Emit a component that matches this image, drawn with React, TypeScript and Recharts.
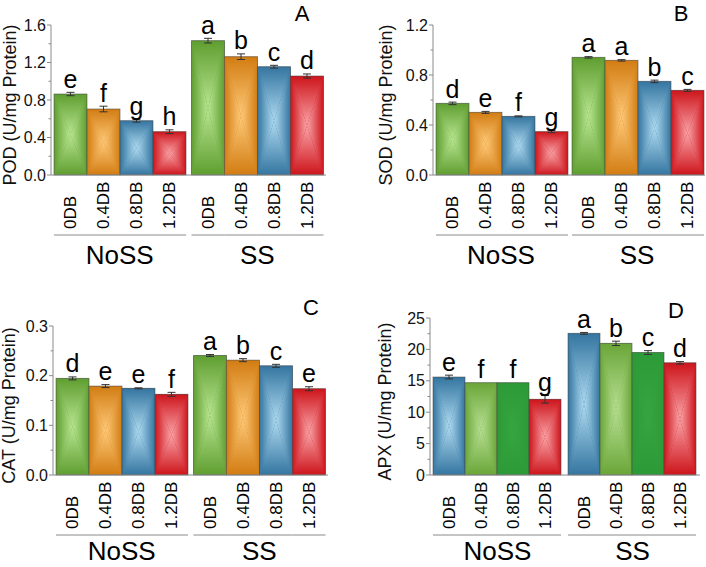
import React from 'react';
import { BarChart, Bar, XAxis, YAxis, ErrorBar, LabelList } from 'recharts';

const FONT = "'Liberation Sans', Arial, Helvetica, sans-serif";

const GROUPS = ['NoSS', 'SS'];
const DOSES = ['0DB', '0.4DB', '0.8DB', '1.2DB'];

// Panel A – POD
const POD_NOSS = [0.864, 0.704, 0.579, 0.462];
const POD_SS = [1.433, 1.262, 1.155, 1.056];
const POD_ERR_NOSS = [0.018, 0.03, 0.015, 0.02];
const POD_ERR_SS = [0.025, 0.03, 0.015, 0.022];
const POD_LET_NOSS = ['e', 'f', 'g', 'h'];
const POD_LET_SS = ['a', 'b', 'c', 'd'];
const POD_TICKS = [0, 0.4, 0.8, 1.2, 1.6];
const POD_MINOR = [0.2, 0.6, 1.0, 1.4];

// Panel B – SOD
const SOD_NOSS = [0.573, 0.501, 0.469, 0.347];
const SOD_SS = [0.941, 0.917, 0.749, 0.677];
const SOD_ERR_NOSS = [0.01, 0.008, 0.004, 0.008];
const SOD_ERR_SS = [0.006, 0.006, 0.01, 0.008];
const SOD_LET_NOSS = ['d', 'e', 'f', 'g'];
const SOD_LET_SS = ['a', 'a', 'b', 'c'];
const SOD_TICKS = [0, 0.4, 0.8, 1.2];
const SOD_MINOR = [0.2, 0.6, 1.0];

// Panel C – CAT
const CAT_NOSS = [0.1945, 0.179, 0.1745, 0.1624];
const CAT_SS = [0.2406, 0.2312, 0.2198, 0.1737];
const CAT_ERR_NOSS = [0.003, 0.003, 0.001, 0.004];
const CAT_ERR_SS = [0.002, 0.003, 0.003, 0.004];
const CAT_LET_NOSS = ['d', 'e', 'e', 'f'];
const CAT_LET_SS = ['a', 'b', 'c', 'e'];
const CAT_TICKS = [0, 0.1, 0.2, 0.3];
const CAT_MINOR = [0.05, 0.15, 0.25];

// Panel D – APX
const APX_NOSS = [15.6, 14.7, 14.7, 12.05];
const APX_SS = [22.55, 20.96, 19.5, 17.86];
const APX_ERR_NOSS = [0.3, 0, 0, 0.6];
const APX_ERR_SS = [0.15, 0.35, 0.3, 0.2];
const APX_LET_NOSS = ['e', 'f', 'f', 'g'];
const APX_LET_SS = ['a', 'b', 'c', 'd'];
const APX_TICKS = [0, 5, 10, 15, 20, 25];
const APX_MINOR = [2.5, 7.5, 12.5, 17.5, 22.5];

// edge colour, centre colour
const PALETTE: Record<string, [string, string]> = {
  green: ['#5f9e30', '#b8e591'],
  orange: ['#d27c12', '#fec978'],
  blue: ['#3475a0', '#aedaf0'],
  red: ['#cd141b', '#f9a3a7'],
  lgreen: ['#6aa638', '#b6df92'],
  dgreen: ['#2c9a36', '#36a641'],
};

const COLORS_ABC = ['green', 'orange', 'blue', 'red'];
const COLORS_D = ['blue', 'lgreen', 'dgreen', 'red'];

const AXIS = '#8a8a8a';

type Frame = {
  left: number;
  top: number;
  width: number;
  height: number;
  margin: { top: number; right: number; bottom: number; left: number };
  yLabelDx: number;
  groupDy: number;
};

const FRAME_A: Frame = { left: 0, top: 0, width: 353, height: 283, margin: { top: 25, right: 27, bottom: 28, left: 11 }, yLabelDx: -41.5, groupDy: 89 };
const FRAME_B: Frame = { left: 353, top: 0, width: 353, height: 283, margin: { top: 25, right: 1, bottom: 28, left: 40 }, yLabelDx: -47, groupDy: 89 };
const FRAME_C: Frame = { left: 0, top: 283, width: 353, height: 284, margin: { top: 43, right: 25, bottom: 12, left: 13 }, yLabelDx: -44, groupDy: 85 };
const FRAME_D: Frame = { left: 353, top: 283, width: 353, height: 284, margin: { top: 35, right: 6, bottom: 12, left: 37 }, yLabelDx: -45, groupDy: 85 };

function GradDefs({ pid, colors }: { pid: string; colors: string[] }) {
  return (
    <defs>
      {colors.map((ck) => {
        const [edge, center] = PALETTE[ck];
        const id = `${pid}-${ck}`;
        return (
          <React.Fragment key={ck}>
            <linearGradient id={`${id}-l`} x1="0" y1="0" x2="1" y2="0">
              <stop offset="0" stopColor={edge} />
              <stop offset="1" stopColor={center} />
            </linearGradient>
            <linearGradient id={`${id}-r`} x1="0" y1="0" x2="1" y2="0">
              <stop offset="0" stopColor={center} />
              <stop offset="1" stopColor={edge} />
            </linearGradient>
            <linearGradient id={`${id}-t`} x1="0" y1="0" x2="0" y2="1">
              <stop offset="0" stopColor={edge} />
              <stop offset="1" stopColor={center} />
            </linearGradient>
            <linearGradient id={`${id}-b`} x1="0" y1="0" x2="0" y2="1">
              <stop offset="0" stopColor={center} />
              <stop offset="1" stopColor={edge} />
            </linearGradient>
          </React.Fragment>
        );
      })}
    </defs>
  );
}

function boxBar(p: any, pid: string, ck: string) {
  const x = Number(p.x);
  const y = Number(p.y);
  const w = Number(p.width);
  const h = Number(p.height);
  if (!w || !h) return <g />;
  const cx = x + w / 2;
  const cy = y + h / 2;
  const id = `${pid}-${ck}`;
  const [edge] = PALETTE[ck];
  return (
    <g>
      <rect x={x} y={y} width={w} height={h} fill={edge} />
      <polygon points={`${x},${y} ${cx},${cy} ${x},${y + h}`} fill={`url(#${id}-l)`} />
      <polygon points={`${x + w},${y} ${cx},${cy} ${x + w},${y + h}`} fill={`url(#${id}-r)`} />
      <polygon points={`${x},${y} ${x + w},${y} ${cx},${cy}`} fill={`url(#${id}-t)`} />
      <polygon points={`${x},${y + h} ${x + w},${y + h} ${cx},${cy}`} fill={`url(#${id}-b)`} />
      <rect x={x} y={y} width={w} height={h} fill="none" stroke="#4a4a4a" strokeOpacity={0.55} strokeWidth={1} />
    </g>
  );
}

type PanelProps = {
  pid: string;
  noss: number[];
  ss: number[];
  errNoss: number[];
  errSs: number[];
  letNoss: string[];
  letSs: string[];
  ticks: number[];
  minor: number[];
  decimals: number;
  yLabel: string;
  colors: string[];
  frame: Frame;
};

function Panel(props: PanelProps) {
  const { pid, noss, ss, errNoss, errSs, letNoss, letSs, ticks, minor, decimals, yLabel, colors, frame } = props;
  const data = GROUPS.map((g, gi) => {
    const vals = gi === 0 ? noss : ss;
    const errs = gi === 0 ? errNoss : errSs;
    const row: Record<string, any> = { group: g };
    DOSES.forEach((_, i) => {
      row[`v${i}`] = vals[i];
      row[`e${i}`] = errs[i];
    });
    return row;
  });
  const letters = [letNoss, letSs];
  const errsAll = [errNoss, errSs];
  const allTicks = [...ticks, ...minor].sort((a, b) => a - b);
  const yMax = ticks[ticks.length - 1];

  const yTick = (p: any) => {
    const x = Number(p.x);
    const y = Number(p.y);
    const v = Number(p.payload?.value);
    const isMajor = ticks.some((m) => Math.abs(m - v) < 1e-9);
    return (
      <g>
        <line x1={x} x2={x - (isMajor ? 4 : 2.5)} y1={y} y2={y} stroke={AXIS} strokeWidth={1} />
        {isMajor && (
          <text x={x - 5} y={y} textAnchor="end" dominantBaseline="central" fontSize={16} fill="#111" fontFamily={FONT}>
            {v.toFixed(decimals)}
          </text>
        )}
      </g>
    );
  };

  const groupTick = (p: any) => (
    <text x={Number(p.x)} y={Number(p.y) + frame.groupDy} textAnchor="middle" fontSize={26} fill="#000" fontFamily={FONT}>
      {p.payload?.value}
    </text>
  );

  const yLabelContent = (p: any) => {
    const vb = p.viewBox || {};
    const ax = Number(vb.x ?? 0) + Number(vb.width ?? 0);
    const cy = Number(vb.y ?? 0) + Number(vb.height ?? 0) / 2 + 5;
    return (
      <text
        transform={`translate(${ax + frame.yLabelDx},${cy}) rotate(-90)`}
        textAnchor="middle"
        dominantBaseline="central"
        fontSize={18}
        fill="#111"
        fontFamily={FONT}
      >
        {yLabel}
      </text>
    );
  };

  const makeBarLabel = (i: number) => (p: any) => {
    const vb = p.viewBox || p;
    const x = Number(vb.x);
    const y = Number(vb.y);
    const w = Number(vb.width);
    const h = Number(vb.height);
    const gi = Number(p.index);
    const value = Number(p.value);
    const err = errsAll[gi]?.[i] ?? 0;
    const errPx = value ? (err / value) * h : 0;
    const cx = x + w / 2;
    const base = y + h;
    return (
      <g>
        <text x={cx} y={y - errPx - 4.5} textAnchor="middle" fontSize={25} fill="#000" fontFamily={FONT}>
          {letters[gi]?.[i]}
        </text>
        <text
          transform={`translate(${cx},${base + 54}) rotate(-90)`}
          textAnchor="start"
          dominantBaseline="central"
          fontSize={17}
          fill="#000"
          fontFamily={FONT}
        >
          {DOSES[i]}
        </text>
        <line x1={x} x2={x + w} y1={base + 60} y2={base + 60} stroke={AXIS} strokeWidth={1} />
      </g>
    );
  };

  return (
    <div style={{ position: 'absolute', left: frame.left, top: frame.top, width: frame.width, height: frame.height }}>
      <BarChart
        width={frame.width}
        height={frame.height}
        data={data}
        margin={frame.margin}
        barGap={0}
        barCategoryGap={3}
      >
        <GradDefs pid={pid} colors={colors} />
        <XAxis
          dataKey="group"
          type="category"
          height={80}
          tickLine={false}
          tickSize={0}
          tickMargin={0}
          interval={0}
          axisLine={{ stroke: AXIS, strokeWidth: 1 }}
          tick={groupTick}
        />
        <YAxis
          type="number"
          domain={[0, yMax]}
          ticks={allTicks}
          width={40}
          interval={0}
          tickLine={false}
          tickSize={0}
          tickMargin={0}
          axisLine={{ stroke: AXIS, strokeWidth: 1 }}
          tick={yTick}
          label={{ content: yLabelContent } as any}
        />
        {DOSES.map((d, i) => (
          <Bar
            key={d}
            dataKey={`v${i}`}
            isAnimationActive={false}
            shape={(p: any) => boxBar(p, pid, colors[i])}
          >
            <ErrorBar dataKey={`e${i}`} width={4} stroke="#333" strokeWidth={1} direction="y" />
            <LabelList dataKey={`v${i}`} content={makeBarLabel(i)} />
          </Bar>
        ))}
      </BarChart>
    </div>
  );
}

const PANEL_TAGS = [
  { t: 'A', x: 302, y: 21 },
  { t: 'B', x: 681, y: 21 },
  { t: 'C', x: 311, y: 315 },
  { t: 'D', x: 676, y: 318 },
];

export default function App() {
  return (
    <div
      style={{
        position: 'absolute',
        left: 0,
        top: 0,
        width: 706,
        height: 567,
        overflow: 'hidden',
        background: '#fff',
        fontFamily: FONT,
      }}
    >
      <Panel pid="pa" noss={POD_NOSS} ss={POD_SS} errNoss={POD_ERR_NOSS} errSs={POD_ERR_SS} letNoss={POD_LET_NOSS} letSs={POD_LET_SS} ticks={POD_TICKS} minor={POD_MINOR} decimals={1} yLabel="POD (U/mg Protein)" colors={COLORS_ABC} frame={FRAME_A} />
      <Panel pid="pb" noss={SOD_NOSS} ss={SOD_SS} errNoss={SOD_ERR_NOSS} errSs={SOD_ERR_SS} letNoss={SOD_LET_NOSS} letSs={SOD_LET_SS} ticks={SOD_TICKS} minor={SOD_MINOR} decimals={1} yLabel="SOD (U/mg Protein)" colors={COLORS_ABC} frame={FRAME_B} />
      <Panel pid="pc" noss={CAT_NOSS} ss={CAT_SS} errNoss={CAT_ERR_NOSS} errSs={CAT_ERR_SS} letNoss={CAT_LET_NOSS} letSs={CAT_LET_SS} ticks={CAT_TICKS} minor={CAT_MINOR} decimals={1} yLabel="CAT (U/mg Protein)" colors={COLORS_ABC} frame={FRAME_C} />
      <Panel pid="pd" noss={APX_NOSS} ss={APX_SS} errNoss={APX_ERR_NOSS} errSs={APX_ERR_SS} letNoss={APX_LET_NOSS} letSs={APX_LET_SS} ticks={APX_TICKS} minor={APX_MINOR} decimals={0} yLabel="APX (U/mg Protein)" colors={COLORS_D} frame={FRAME_D} />
      <svg width={706} height={567} style={{ position: 'absolute', left: 0, top: 0, pointerEvents: 'none' }}>
        {PANEL_TAGS.map((p) => (
          <text key={p.t} x={p.x} y={p.y} textAnchor="middle" fontSize={22} fill="#000" fontFamily={FONT}>
            {p.t}
          </text>
        ))}
      </svg>
    </div>
  );
}
